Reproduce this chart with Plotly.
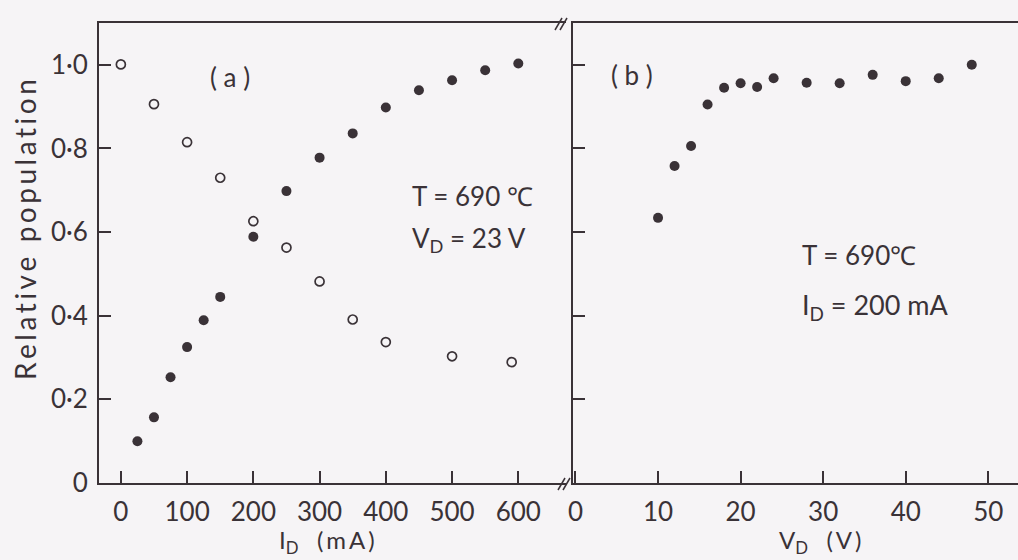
import plotly.graph_objects as go

# ---- data ----
id_filled = [25, 50, 75, 100, 125, 150, 200, 250, 300, 350, 400, 450, 500, 550, 600]
pop_filled_a = [0.10, 0.157, 0.253, 0.325, 0.389, 0.445, 0.589, 0.698, 0.778, 0.836, 0.898, 0.939, 0.963, 0.987, 1.003]
id_open = [0, 50, 100, 150, 200, 250, 300, 350, 400, 500, 590]
pop_open_a = [1.001, 0.906, 0.815, 0.730, 0.626, 0.563, 0.482, 0.391, 0.337, 0.303, 0.289]
vd = [10, 12, 14, 16, 18, 20, 22, 24, 28, 32, 36, 40, 44, 48]
pop_b = [0.634, 0.758, 0.806, 0.905, 0.945, 0.956, 0.947, 0.968, 0.957, 0.956, 0.976, 0.961, 0.968, 1.0]

y_ticks = [0, 0.2, 0.4, 0.6, 0.8, 1.0]
y_ticktext = ["0", "0·2", "0·4", "0·6", "0·8", "1·0"]
xa_ticks = [0, 100, 200, 300, 400, 500, 600]
xb_ticks = [0, 10, 20, 30, 40, 50]

INK = "#3a3237"
BG = "#f6f4f6"
FONT = "Lato"

W, H = 1018, 560
ML, MR, MT, MB = 99, 0, 23, 77
PW, PH = W - ML - MR, H - MT - MB

def px(x):
    return (x - ML) / PW

def py(y):
    return (H - MB - y) / PH

def spaced(s):
    return "\u2009".join(s)

fig = go.Figure()
fig.add_trace(go.Scatter(x=id_open, y=pop_open_a, mode="markers", xaxis="x", yaxis="y",
                         marker=dict(symbol="circle-open", size=9, color=INK, line=dict(width=1.7, color=INK))))
fig.add_trace(go.Scatter(x=id_filled, y=pop_filled_a, mode="markers", xaxis="x", yaxis="y",
                         marker=dict(symbol="circle", size=10, color=INK)))
fig.add_trace(go.Scatter(x=vd, y=pop_b, mode="markers", xaxis="x2", yaxis="y2",
                         marker=dict(symbol="circle", size=10, color=INK)))

axis_common = dict(showgrid=False, zeroline=False, showline=True, linecolor=INK, linewidth=1.8,
                   ticks="inside", ticklen=12, tickwidth=1.6, tickcolor=INK,
                   tickfont=dict(family=FONT, size=26, color=INK))

fig.update_layout(
    width=W, height=H,
    margin=dict(l=ML, r=MR, t=MT, b=MB, pad=0),
    paper_bgcolor=BG, plot_bgcolor=BG,
    showlegend=False,
    xaxis=dict(domain=[0, px(566)], range=[-33, 672], tickvals=xa_ticks, mirror=True,
               anchor="y", ticklabelstandoff=5, **axis_common),
    yaxis=dict(domain=[0, 1], range=[0, 1.1], tickvals=y_ticks, ticktext=y_ticktext,
               anchor="x", ticklabelstandoff=4, **axis_common),
    xaxis2=dict(domain=[px(573), 1], range=[-0.3, 53.6], tickvals=xb_ticks, mirror=True,
                anchor="y2", ticklabelstandoff=5, **axis_common),
    yaxis2=dict(domain=[0, 1], range=[0, 1.1], tickvals=y_ticks, showticklabels=False,
                anchor="x2", **axis_common),
)

ann_font = dict(family=FONT, size=26, color=INK)
title_font = dict(family=FONT, size=24, color=INK)
anns = [
    dict(x=165, y=0.97, xref="x", yref="y", text="( a )", showarrow=False, font=ann_font),
    dict(x=6.8, y=0.975, xref="x2", yref="y2", text="( b )", showarrow=False, font=ann_font),
    dict(x=436, y=0.687, xref="x", yref="y", text="T = 690 ℃", showarrow=False, xanchor="left", font=ann_font),
    dict(x=436, y=0.582, xref="x", yref="y", text="V<sub>D</sub> = 23 V", showarrow=False, xanchor="left", font=ann_font),
    dict(x=27.2, y=0.546, xref="x2", yref="y2", text="T = 690℃", showarrow=False, xanchor="left", font=ann_font),
    dict(x=27.2, y=0.422, xref="x2", yref="y2", text="I<sub>D</sub> = 200 mA", showarrow=False, xanchor="left",
         font=dict(family=FONT, size=27, color=INK)),
    dict(x=px(25), y=py(230), xref="paper", yref="paper", text=spaced("Relative") + "  " + spaced("population"),
         textangle=-90, xanchor="center", yanchor="middle", showarrow=False,
         font=dict(family=FONT, size=28, color=INK)),
    dict(x=px(327), y=py(560), xref="paper", yref="paper", text="I<sub>D</sub>   (\u2009m\u2009A\u2009)",
         xanchor="center", yanchor="bottom", showarrow=False, font=title_font),
    dict(x=px(820), y=py(560), xref="paper", yref="paper", text="V<sub>D</sub>   (\u2009V\u2009)",
         xanchor="center", yanchor="bottom", showarrow=False, font=title_font),
]
fig.update_layout(annotations=anns)

# axis break marks
shapes = []
for cx, cy in [(561, 24), (564, 484)]:
    for dx in (-2.5, 2.5):
        shapes.append(dict(type="line", xref="paper", yref="paper",
                           x0=px(cx + dx - 3.5), y0=py(cy + 6), x1=px(cx + dx + 3.5), y1=py(cy - 6),
                           line=dict(color=INK, width=1.5)))
fig.update_layout(shapes=shapes)

fig.write_html("out.html")
